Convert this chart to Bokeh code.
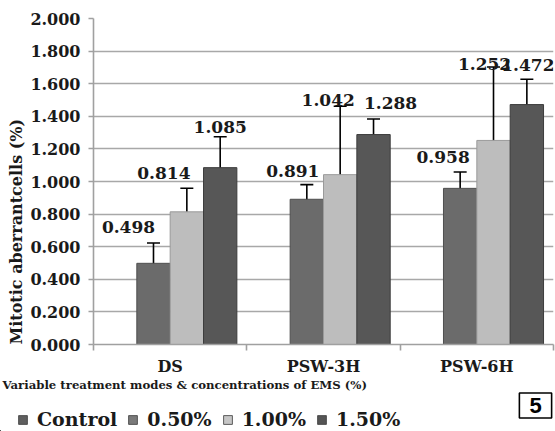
import numpy as np
from bokeh.plotting import figure
from bokeh.layouts import column
from bokeh.models import (ColumnDataSource, Range1d, FixedTicker, NumeralTickFormatter,
                          Whisker, TeeHead, Label, Legend, LegendItem, Title)
from bokeh.core.properties import value
from bokeh.embed import file_html
from bokeh.resources import INLINE

# ---------------- data ----------------
categories = ["DS", "PSW-3H", "PSW-6H"]
series = ["Control", "0.50%", "1.00%", "1.50%"]
control = [0.0, 0.0, 0.0]
ems_050 = [0.498, 0.891, 0.958]
ems_100 = [0.814, 1.042, 1.252]
ems_150 = [1.085, 1.288, 1.472]
err_control = [0.0, 0.0, 0.0]
err_050 = [0.125, 0.090, 0.100]
err_100 = [0.145, 0.420, 0.450]
err_150 = [0.190, 0.095, 0.155]
y_ticks = [0.0, 0.2, 0.4, 0.6, 0.8, 1.0, 1.2, 1.4, 1.6, 1.8, 2.0]
y_title = "Mitotic aberrantcells (%)"
x_title = "Variable treatment modes & concentrations of EMS (%)"
panel_tag = "5"

# ---------------- layout / style ----------------
W = 555
H_MAIN, H_FOOT = 378, 53
FL, FR, FT, FB = 93, 553, 18, 344          # frame edges in px
colors = ["#5c5c5c", "#6b6b6b", "#bdbdbd", "#575757"]
edges = ["#444444", "#4f4f4f", "#9a9a9a", "#3c3c3c"]
legend_colors = ["#5f5f5f", "#7a7a7a", "#c6c6c6", "#555555"]
GAP = 0.065
SLOT = (1 - 2 * GAP) / len(series)
SERIF = "DejaVu Serif"
INK = "#1a1a1a"
# label nudges in px (x right, y down) relative to bar centre / error-bar top
label_dx = [[-25, -23, 0], [-14, -12, 17], [-17, -9, 1]]
label_dy = [[-16, -15, -10], [-14, -6, -16], [-15, -3, -14]]

p = figure(width=W, height=H_MAIN, output_backend="svg", toolbar_location=None,
           x_range=Range1d(0, len(categories)), y_range=Range1d(0, 2.0),
           min_border_left=FL, min_border_right=W - FR, min_border_top=FT,
           min_border_bottom=H_MAIN - FB)
p.outline_line_color = None
p.background_fill_color = "white"
p.border_fill_color = "white"
p.frame_align = False

vals = [control, ems_050, ems_100, ems_150]
errs = [err_control, err_050, err_100, err_150]

wx, wu, wl = [], [], []
lx, ly, lt, ldx, ldy = [], [], [], [], []
for k, (name, v, e) in enumerate(zip(series, vals, errs)):
    xs = [i + GAP + SLOT * (k + 0.5) for i in range(len(categories))]
    src = ColumnDataSource(dict(x=xs, top=v))
    p.vbar(x="x", top="top", width=SLOT, bottom=0, source=src,
           fill_color=colors[k], line_color=edges[k] if k > 0 else None, line_width=1)
    if k > 0:
        for i in range(len(categories)):
            wx.append(xs[i]); wu.append(v[i] + e[i]); wl.append(v[i] - e[i])
            lx.append(xs[i]); ly.append(v[i] + e[i]); lt.append(f"{v[i]:.3f}")
            ldx.append(label_dx[i][k - 1]); ldy.append(label_dy[i][k - 1])

wsrc = ColumnDataSource(dict(x=wx, upper=wu, lower=wl))
p.add_layout(Whisker(source=wsrc, base="x", upper="upper", lower="lower",
                     line_color="black", line_width=1.6,
                     upper_head=TeeHead(size=13, line_width=1.6, line_color="black"),
                     lower_head=TeeHead(size=13, line_width=1.6, line_color="black")))

lsrc = ColumnDataSource(dict(x=lx, y=ly, text=lt, dx=ldx, dy=ldy))
p.text(x="x", y="y", text="text", x_offset="dx", y_offset="dy", source=lsrc,
       text_font=value(SERIF), text_font_style="bold", text_font_size="17px",
       text_align="center", text_baseline="alphabetic", text_color=INK)

# axes
p.xgrid.grid_line_color = None
p.ygrid.grid_line_color = "#a8a8a8"
p.ygrid.grid_line_width = 1.6
p.yaxis.ticker = FixedTicker(ticks=y_ticks)
p.yaxis.formatter = NumeralTickFormatter(format="0.000")
p.yaxis.major_label_text_font = SERIF
p.yaxis.major_label_text_font_style = "bold"
p.yaxis.major_label_text_font_size = "16px"
p.yaxis.major_label_text_color = INK
p.yaxis.major_label_standoff = 8
p.yaxis.axis_line_color = "#a0a0a0"
p.yaxis.axis_line_width = 1.6
p.yaxis.major_tick_line_color = "#a0a0a0"
p.yaxis.major_tick_line_width = 1.6
p.yaxis.major_tick_out = 5
p.yaxis.major_tick_in = 0
p.yaxis.minor_tick_line_color = None

centers = [i + 0.5 for i in range(len(categories))]
p.xaxis.ticker = FixedTicker(ticks=centers, minor_ticks=list(range(len(categories) + 1)))
p.xaxis.major_label_overrides = {c: name for c, name in zip(centers, categories)}
p.xaxis.major_label_text_font = SERIF
p.xaxis.major_label_text_font_style = "bold"
p.xaxis.major_label_text_font_size = "16px"
p.xaxis.major_label_text_color = INK
p.xaxis.major_label_standoff = 6
p.xaxis.major_tick_line_color = None
p.xaxis.minor_tick_line_color = "#a0a0a0"
p.xaxis.minor_tick_line_width = 1.6
p.xaxis.minor_tick_out = 6
p.xaxis.minor_tick_in = 0
p.xaxis.axis_line_color = "#a0a0a0"
p.xaxis.axis_line_width = 1.6

# y-axis title in the left panel
p.add_layout(Title(text=y_title, align="left", text_font=SERIF, text_font_style="bold",
                   text_font_size="16px", text_color=INK, standoff=4), "left")

# ---------------- footer: x title, legend, panel tag ----------------
f = figure(width=W, height=H_FOOT, output_backend="svg", toolbar_location=None,
           x_range=Range1d(0, W), y_range=Range1d(0, H_FOOT),
           min_border=0, x_axis_type=None, y_axis_type=None)
f.outline_line_color = None
f.xgrid.visible = False
f.ygrid.visible = False
f.frame_align = False

foot_renderers = []
for k, s in enumerate(series):
    r = f.vbar(x=[-100], top=[1], width=1, fill_color=legend_colors[k],
               line_color="#3a3a3a", line_width=0.8)
    foot_renderers.append(r)

f.add_layout(Label(x=2, y=H_FOOT - 6, text=x_title, text_font=SERIF,
                   text_font_style="bold", text_font_size="11.7px",
                   text_align="left", text_baseline="middle", text_color=INK))
f.add_layout(Label(x=535, y=H_FOOT - 27, text=panel_tag,
                   text_font="Liberation Sans", text_font_style="bold",
                   text_font_size="22px", text_align="center", text_baseline="middle",
                   text_color="black", border_line_color="black", border_line_width=1.6,
                   background_fill_color="white", padding=(10, 5)))

items = [LegendItem(label=s, renderers=[r]) for s, r in zip(series, foot_renderers)]
legend = Legend(items=items, orientation="horizontal", location=(17, 1),
                label_text_font=SERIF, label_text_font_style="bold",
                label_text_font_size="19px", label_text_color=INK,
                glyph_width=11, glyph_height=11, label_standoff=9, spacing=10,
                padding=0, margin=0, border_line_color=None,
                background_fill_alpha=0)
f.add_layout(legend)

layout = column(p, f, spacing=0)
open("out.html", "w").write(file_html(layout, INLINE))
